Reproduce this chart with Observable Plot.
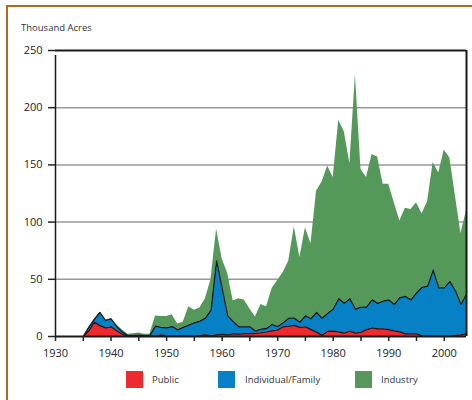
<!DOCTYPE html>
<html><head><meta charset="utf-8">
<script src="https://cdn.jsdelivr.net/npm/d3@7"></script>
<script src="https://cdn.jsdelivr.net/npm/@observablehq/plot@0.6"></script>
<style>
body{margin:0;background:#fff;}
#wrap{position:relative;width:472px;height:400px;overflow:hidden;background:#fff;font-family:"Open Sans",sans-serif;color:#222;}
#frame{position:absolute;left:6px;top:5px;width:700px;height:700px;border-top:2px solid #a86d1d;border-left:2px solid #a86d1d;box-sizing:border-box;}
#title{position:absolute;left:21px;top:22px;font-size:9.5px;line-height:12px;color:#333;}
#chart{position:absolute;left:0;top:0;}
.sw{position:absolute;top:371px;width:17px;height:17px;}
.lg{position:absolute;top:373px;font-size:9.5px;line-height:13px;color:#333;}
</style></head>
<body>
<div id="wrap">
  <div id="frame"></div>
  <div id="chart"></div>
  <div id="title">Thousand Acres</div>
  <div id="legend"></div>
</div>
<script>
const years = [1935,1936,1937,1938,1939,1940,1941,1942,1943,1944,
1945,1946,1947,1948,1949,1950,1951,1952,1953,1954,
1955,1956,1957,1958,1959,1960,1961,1962,1963,1964,
1965,1966,1967,1968,1969,1970,1971,1972,1973,1974,
1975,1976,1977,1978,1979,1980,1981,1982,1983,1984,
1985,1986,1987,1988,1989,1990,1991,1992,1993,1994,
1995,1996,1997,1998,1999,2000,2001,2002,2003,2004];

const publicV = [0,5,12.5,9.5,7.5,8.5,5,2,0.3,0.3,
0.3,0.3,0.3,0.8,1.5,0.5,0.5,0.3,0.5,0.5,
0.3,1,1.5,0.8,1.5,2,1.5,2.5,2,2.5,
2.5,2.8,3.2,4,5,5.8,8.5,9,9.7,8,
8.5,6,3.8,1,4.6,4.6,4,3,4.6,3,
3.8,6,7.6,6.7,6.7,6,5,4,2.3,2.3,
2.3,0.5,0.5,0.5,0.5,0.5,0.5,1,1.5,2.5];

const individual = [0,3,2.5,11.5,6.5,7,4,2,0.7,0.7,
0.9,0.7,0.7,8.2,6.5,7.1,8.2,5.5,7.5,9.5,
11.7,12.5,14.5,22.2,64.5,40,16.5,10.5,6.5,6,
6,1.9,3.3,3,5.5,2.9,3.5,7,6.3,4.5,
9.5,9.5,17.2,15,15.4,19.4,29,26,28.4,21,
21.8,19.6,24.4,22.3,24.3,26,23,30,32.7,29.7,
35.7,42.5,43.5,57.5,42,42,47.5,39,26.5,34.5];

const industry = [0,0,0,0,0,0,1,2,1,1.5,
1.8,1,1,9,9.5,9.9,10.3,5.2,4.5,16,
11,11.5,17,27,28,26,37,18,24.5,23.5,
15.5,12.3,21.5,19,31.5,40.3,44,50,80,56.5,
77,65.5,106,119,129,115,156,150,118,205,
120.4,113.4,127,128,102,101,89,67,77,79,
79,64,74,94,100.5,120.5,108,83,62,73];

const seriesNames = ["Public","Individual/Family","Industry"];
const seriesColors = ["#ec2a2f","#0681c5","#55995a"];
const yTicks = [0,50,100,150,200,250];
const yGrid = [50,100,150,200];
const xTicks = [1930,1935,1940,1945,1950,1955,1960,1965,1970,1975,1980,1985,1990,1995,2000];
const xDomain = [1930,2004];

const data = years.flatMap((y,i)=>[
  {year:y, series:"Public", value:publicV[i]},
  {year:y, series:"Individual/Family", value:individual[i]},
  {year:y, series:"Industry", value:industry[i]}
]);

const chart = Plot.plot({
  width:472, height:370,
  marginTop:50, marginBottom:34, marginLeft:55, marginRight:6,
  x:{domain:xDomain},
  y:{domain:[0,250]},
  color:{domain:seriesNames, range:seriesColors},
  style:{fontFamily:"Open Sans", fontSize:"11px", color:"#222", background:"transparent"},
  marks:[
    Plot.ruleY(yGrid, {stroke:"#9a9a9a", strokeWidth:1.5}),
    Plot.areaY(data, {x:"year", y:"value", fill:"series", order:seriesNames, curve:"linear"}),
    Plot.lineY(data, Plot.stackY2({x:"year", y:"value", z:"series", order:seriesNames,
      filter:d=>d.series!=="Industry", stroke:"#1a1a1a", strokeWidth:1.3, curve:"linear"})),
    Plot.ruleY([0], {stroke:"#1a1a1a", strokeWidth:2}),
    Plot.ruleY([250], {stroke:"#1a1a1a", strokeWidth:2}),
    Plot.ruleX([xDomain[0]], {y1:0, y2:250, stroke:"#1a1a1a", strokeWidth:1.5, insetBottom:-5}),
    Plot.ruleX([xDomain[1]], {y1:0, y2:250, stroke:"#1a1a1a", strokeWidth:2}),
    Plot.axisY({ticks:yTicks, tickSize:7, tickPadding:6, label:null, stroke:"#222", strokeWidth:1.5}),
    Plot.axisX({ticks:xTicks, tickSize:5, tickPadding:8, label:null, stroke:"#222", strokeWidth:1.5,
      tickFormat:d => d % 10 === 0 ? String(d) : ""})
  ]
});
document.getElementById("chart").appendChild(chart);

const legendPos = [[126,152],[218,245],[355,381]];
const lg = document.getElementById("legend");
seriesNames.forEach((s,i)=>{
  const sw = document.createElement("div");
  sw.className = "sw"; sw.style.left = legendPos[i][0]+"px"; sw.style.background = seriesColors[i];
  const t = document.createElement("div");
  t.className = "lg"; t.style.left = legendPos[i][1]+"px"; t.textContent = s;
  lg.appendChild(sw); lg.appendChild(t);
});
</script>
</body></html>
